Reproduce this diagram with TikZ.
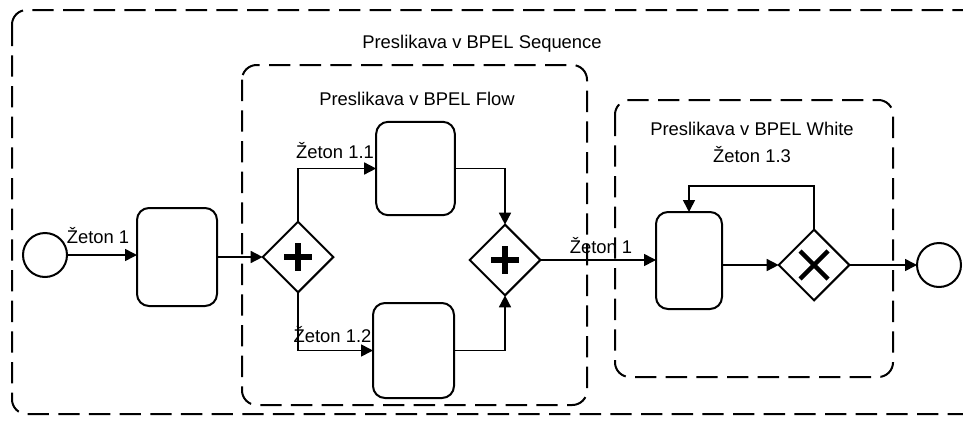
\documentclass[tikz,border=0pt]{standalone}
\usepackage{fontspec}
\setmainfont{Liberation Sans}
\usetikzlibrary{arrows.meta,shapes.geometric,calc}
\begin{document}
\begin{tikzpicture}[x=0.75pt,y=-0.75pt,
  every node/.style={font=\fontsize{13.8}{16}\selectfont},
  grp/.style={draw,line width=1.5pt,dash pattern=on 16pt off 7pt,rounded corners=11pt},
  task/.style={draw,line width=1.5pt,rounded corners=9pt,fill=white,inner sep=0pt,outer sep=0pt},
  evt/.style={draw,circle,line width=1.5pt,minimum size=33pt,inner sep=0pt,outer sep=0pt},
  gw/.style={draw,diamond,line width=1.5pt,minimum width=53pt,minimum height=53pt,inner sep=0pt,outer sep=0pt,fill=white},
  flow/.style={line width=1.2pt,-{Triangle[length=9pt,width=9pt]}},
  lbl/.style={anchor=base,inner sep=0pt}]
\useasboundingbox (0,0) rectangle (963,421);
\clip (0,0) rectangle (963,421);
% groups
\draw[grp] (12,10) rectangle (995,414);
\draw[grp] (242,65) rectangle (587,405);
\draw[grp] (615,100) rectangle (893,377);
\node[lbl] (tseq) at (482,48) {Preslikava v BPEL Sequence};
\node[lbl] (tflow) at (417,105) {Preslikava v BPEL Flow};
\node[lbl] (twhile) at (752,135) {Preslikava v BPEL White};
\node[lbl] (tz13) at (752,162) {Žeton 1.3};
% nodes
\node[evt] (start) at (45,255) {};
\node[task,minimum width=60pt,minimum height=73.5pt] (t1) at (177,257) {};
\node[gw] (g1) at (298,257) {};
\node[task,minimum width=59pt,minimum height=70pt] (t11) at (415.5,168.5) {};
\node[task,minimum width=60.75pt,minimum height=71.25pt] (t12) at (413.5,350.5) {};
\node[gw] (g2) at (505,260) {};
\node[task,minimum width=49.5pt,minimum height=72.75pt] (t3) at (689,260.5) {};
\node[gw] (g3) at (814,265) {};
\node[evt] (end) at (939,265) {};
\coordinate (lp) at (0,186);
% gateway markers
\draw[line width=4pt] ($(g1)+(-14,0)$) -- ($(g1)+(14,0)$) ($(g1)+(0,-14)$) -- ($(g1)+(0,14)$);
\draw[line width=4pt] ($(g2)+(-14,0)$) -- ($(g2)+(14,0)$) ($(g2)+(0,-14)$) -- ($(g2)+(0,14)$);
\draw[line width=3.2pt] ($(g3)+(-14,-14)$) -- ($(g3)+(14,14)$) ($(g3)+(-14,14)$) -- ($(g3)+(14,-14)$);
% flows
\draw[flow] (start) -- (t1.west |- start);
\draw[flow] (t1.east |- g1) -- (g1.west);
\draw[flow] (g1.north) |- (t11.west);
\draw[flow] (g1.south) |- (t12.west);
\draw[flow] (t11.east) -| (g2.north);
\draw[flow] (t12.east) -| (g2.south);
\draw[flow] (g2.east) -- (t3.west |- g2);
\draw[flow] (t3.east |- g3) -- (g3.west);
\draw[flow] (g3.north) |- (t3.north |- lp) -- (t3.north);
\draw[flow] (g3.east) -- (end.west);
% labels
\node[lbl] (z1) at (98,243) {Žeton 1};
\node[lbl] (z11) at (335,158) {Žeton 1.1};
\node[lbl] (z12) at (332.5,342) {Žeton 1.2};
\node[lbl] (z1b) at (601,253) {Žeton 1};
\end{tikzpicture}
\end{document}
